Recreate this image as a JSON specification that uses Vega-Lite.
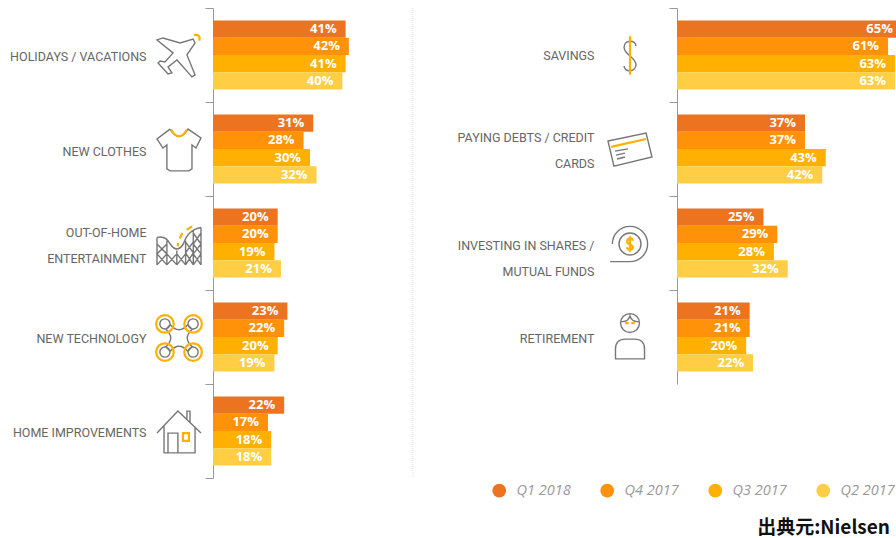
{"$schema":"https://vega.github.io/schema/vega-lite/v6.json","padding":{"left":0,"top":2,"right":0,"bottom":0},"background":"white","autosize":{"type":"pad"},"spacing":0,
"title":{"text":"出典元:Nielsen","orient":"bottom","anchor":"end","font":"Noto Sans CJK JP","fontSize":19,"fontWeight":"bold","color":"#111","offset":21,"dx":-6},
"config":{"view":{"stroke":null},"axisY":{"title":null,"domainColor":"#999","tickColor":"#999","tickSize":8,"tickBand":"extent","labelFont":"Roboto","labelFontSize":12.5,"labelColor":"#666","labelPadding":59,"labelLimit":300,"labelLineHeight":26,"minExtent":213,"maxExtent":213,"grid":false,"labelExpr":"datum.label=='OUT-OF-HOME ENTERTAINMENT'?['OUT-OF-HOME','ENTERTAINMENT']:datum.label=='PAYING DEBTS / CREDIT CARDS'?['PAYING DEBTS / CREDIT','CARDS']:datum.label=='INVESTING IN SHARES / MUTUAL FUNDS'?['INVESTING IN SHARES /','MUTUAL FUNDS']:datum.label"},
"legend":{"orient":"none","legendX":279,"legendY":475,"direction":"horizontal","columns":4,"title":null,"symbolType":"circle","symbolSize":190,"labelFont":"Open Sans","labelFontStyle":"italic","labelFontSize":14.5,"labelColor":"#999","labelOffset":10,"columnPadding":29,"symbolStrokeWidth":0}},
"datasets":{
"rows":[
{"category":"HOLIDAYS / VACATIONS","quarter":"Q1 2018","value":0.41},{"category":"HOLIDAYS / VACATIONS","quarter":"Q4 2017","value":0.42},{"category":"HOLIDAYS / VACATIONS","quarter":"Q3 2017","value":0.41},{"category":"HOLIDAYS / VACATIONS","quarter":"Q2 2017","value":0.40},
{"category":"NEW CLOTHES","quarter":"Q1 2018","value":0.31},{"category":"NEW CLOTHES","quarter":"Q4 2017","value":0.28},{"category":"NEW CLOTHES","quarter":"Q3 2017","value":0.30},{"category":"NEW CLOTHES","quarter":"Q2 2017","value":0.32},
{"category":"OUT-OF-HOME ENTERTAINMENT","quarter":"Q1 2018","value":0.20},{"category":"OUT-OF-HOME ENTERTAINMENT","quarter":"Q4 2017","value":0.20},{"category":"OUT-OF-HOME ENTERTAINMENT","quarter":"Q3 2017","value":0.19},{"category":"OUT-OF-HOME ENTERTAINMENT","quarter":"Q2 2017","value":0.21},
{"category":"NEW TECHNOLOGY","quarter":"Q1 2018","value":0.23},{"category":"NEW TECHNOLOGY","quarter":"Q4 2017","value":0.22},{"category":"NEW TECHNOLOGY","quarter":"Q3 2017","value":0.20},{"category":"NEW TECHNOLOGY","quarter":"Q2 2017","value":0.19},
{"category":"HOME IMPROVEMENTS","quarter":"Q1 2018","value":0.22},{"category":"HOME IMPROVEMENTS","quarter":"Q4 2017","value":0.17},{"category":"HOME IMPROVEMENTS","quarter":"Q3 2017","value":0.18},{"category":"HOME IMPROVEMENTS","quarter":"Q2 2017","value":0.18}],
"rowsRight":[
{"category":"SAVINGS","quarter":"Q1 2018","value":0.65},{"category":"SAVINGS","quarter":"Q4 2017","value":0.61},{"category":"SAVINGS","quarter":"Q3 2017","value":0.63},{"category":"SAVINGS","quarter":"Q2 2017","value":0.63},
{"category":"PAYING DEBTS / CREDIT CARDS","quarter":"Q1 2018","value":0.37},{"category":"PAYING DEBTS / CREDIT CARDS","quarter":"Q4 2017","value":0.37},{"category":"PAYING DEBTS / CREDIT CARDS","quarter":"Q3 2017","value":0.43},{"category":"PAYING DEBTS / CREDIT CARDS","quarter":"Q2 2017","value":0.42},
{"category":"INVESTING IN SHARES / MUTUAL FUNDS","quarter":"Q1 2018","value":0.25},{"category":"INVESTING IN SHARES / MUTUAL FUNDS","quarter":"Q4 2017","value":0.29},{"category":"INVESTING IN SHARES / MUTUAL FUNDS","quarter":"Q3 2017","value":0.28},{"category":"INVESTING IN SHARES / MUTUAL FUNDS","quarter":"Q2 2017","value":0.32},
{"category":"RETIREMENT","quarter":"Q1 2018","value":0.21},{"category":"RETIREMENT","quarter":"Q4 2017","value":0.21},{"category":"RETIREMENT","quarter":"Q3 2017","value":0.20},{"category":"RETIREMENT","quarter":"Q2 2017","value":0.22}],
"icons":[
{"category":"HOLIDAYS / VACATIONS","icon":"plane","part":"line"},{"category":"HOLIDAYS / VACATIONS","icon":"plane-accent","part":"accent"},
{"category":"NEW CLOTHES","icon":"shirt","part":"line"},{"category":"NEW CLOTHES","icon":"shirt-accent","part":"accent"},
{"category":"OUT-OF-HOME ENTERTAINMENT","icon":"coaster","part":"line"},{"category":"OUT-OF-HOME ENTERTAINMENT","icon":"coaster-accent","part":"accent"},
{"category":"NEW TECHNOLOGY","icon":"drone","part":"line"},{"category":"NEW TECHNOLOGY","icon":"drone-accent","part":"accent"},
{"category":"HOME IMPROVEMENTS","icon":"house","part":"line"},{"category":"HOME IMPROVEMENTS","icon":"house-accent","part":"accent"}],
"iconsRight":[
{"category":"SAVINGS","icon":"dollar","part":"line"},{"category":"SAVINGS","icon":"dollar-accent","part":"accent"},
{"category":"PAYING DEBTS / CREDIT CARDS","icon":"card","part":"line"},{"category":"PAYING DEBTS / CREDIT CARDS","icon":"card-accent","part":"accent"},
{"category":"INVESTING IN SHARES / MUTUAL FUNDS","icon":"invest","part":"line"},{"category":"INVESTING IN SHARES / MUTUAL FUNDS","icon":"invest-accent","part":"accent"},
{"category":"RETIREMENT","icon":"person","part":"line"},{"category":"RETIREMENT","icon":"person-accent","part":"accent"}]
},
"resolve":{"scale":{"y":"independent","x":"independent","yOffset":"independent"}},
"hconcat":[
{"width":207,"height":470,
"layer":[
{"data":{"name":"rows"},"mark":{"type":"bar","yOffset":3},"encoding":{
"y":{"field":"category","type":"nominal","sort":["HOLIDAYS / VACATIONS","NEW CLOTHES","OUT-OF-HOME ENTERTAINMENT","NEW TECHNOLOGY","HOME IMPROVEMENTS"],"scale":{"paddingInner":0,"paddingOuter":0},"axis":{"encoding":{"labels":{"dy":{"value":{"signal":"datum.value=='OUT-OF-HOME ENTERTAINMENT'?-11:datum.value=='NEW CLOTHES'?2:1"}}}}}},
"yOffset":{"field":"quarter","type":"nominal","sort":["Q1 2018","Q4 2017","Q3 2017","Q2 2017"],"scale":{"paddingInner":0,"paddingOuter":0.73}},
"x":{"field":"value","type":"quantitative","axis":null,"scale":{"domain":[0,0.64],"nice":false}},
"color":{"field":"quarter","type":"nominal","sort":["Q1 2018","Q4 2017","Q3 2017","Q2 2017"],"scale":{"domain":["Q1 2018","Q4 2017","Q3 2017","Q2 2017"],"range":["#EC7320","#FF9208","#FFB000","#FFCE44"]}}}},
{"data":{"name":"rows"},"mark":{"type":"text","align":"right","dx":-9,"yOffset":3,"font":"Open Sans","fontWeight":"bold","fontSize":13,"color":"white"},"encoding":{
"y":{"field":"category","type":"nominal","sort":["HOLIDAYS / VACATIONS","NEW CLOTHES","OUT-OF-HOME ENTERTAINMENT","NEW TECHNOLOGY","HOME IMPROVEMENTS"]},
"yOffset":{"field":"quarter","type":"nominal","sort":["Q1 2018","Q4 2017","Q3 2017","Q2 2017"]},
"x":{"field":"value","type":"quantitative"},
"text":{"field":"value","type":"quantitative","format":".0%"}}},
{"data":{"name":"rows"},"transform":[{"filter":"datum.category=='NEW CLOTHES'&&datum.quarter=='Q1 2018'"}],"mark":{"type":"rule","color":"#ddd","strokeWidth":1,"strokeDash":[1,1]},"encoding":{"x":{"datum":0.618}}},
{"data":{"name":"icons"},"mark":{"type":"point","filled":false,"size":1936,"opacity":1,"xOffset":-34,"yOffset":1},"encoding":{
"y":{"field":"category","type":"nominal","sort":["HOLIDAYS / VACATIONS","NEW CLOTHES","OUT-OF-HOME ENTERTAINMENT","NEW TECHNOLOGY","HOME IMPROVEMENTS"]},
"x":{"datum":0},
"shape":{"field":"icon","type":"nominal","legend":null,"scale":{"domain":["plane","plane-accent","shirt","shirt-accent","coaster","coaster-accent","drone","drone-accent","house","house-accent","dollar","dollar-accent","card","card-accent","invest","invest-accent","person","person-accent"],"range":[
"M-1-.73L-.73-.82L.05-.59L.64-.77L.73-.59L.36-.05L.73.86L.59.95L-.09.18L-.5.5L-.32.77L-.5.82L-.95.32L-.86.23L-.64.27L-.27-.14Z",
"M.68-.95Q1-1 .92-.7",
"M-.41-.95L-1-.5L-.73-.09L-.55-.23L-.55.86L-.41.95L.45.95L.59.86L.59-.23L.77-.09L1-.55L.41-.95Q0-.3-.41-.95",
"M-.36-.93Q0-.3.36-.93",
"M-1-.3L-1 .95M-.55-.15L-.55.95M-.1.3L-.1.95M.3-.15L.3.95M.65-.6L.65.95M1-.75L1 .95M-1-.3Q-.6-.4-.4 0Q-.1.45.2 0Q.4-.65 1-.75M-1 0L-.55.45L-1 .95M-.55 0L-1 .45L-.55.95M-.55.45L-.1.95M-.1.45L-.55.95M-.1.45L.3.95M.3.45L-.1.95M.3-.1L.65.4L.3.95M.65-.1L.3.4L.65.95M.65-.5L1 0L.65.45L1 .95M1-.5L.65 0L1 .45L.65.95",
"M-.05.1L-.05-.05M.03-.25L.15-.5M.35-.65L.6-.8",
"M-.4-.6Q0-.15.4-.6L.6-.4Q.15 0 .6.4L.4.6Q0 .15-.4.6L-.6.4Q-.15 0-.6-.4ZM-.87-.64A.23.23 0 1 0-.41-.64A.23.23 0 1 0-.87-.64ZM.41-.64A.23.23 0 1 0 .87-.64A.23.23 0 1 0 .41-.64ZM-.87.64A.23.23 0 1 0-.41.64A.23.23 0 1 0-.87.64ZM.41.64A.23.23 0 1 0 .87.64A.23.23 0 1 0 .41.64Z",
"M-1.04-.64A.4.4 0 1 0-.24-.64A.4.4 0 1 0-1.04-.64ZM.24-.64A.4.4 0 1 0 1.04-.64A.4.4 0 1 0 .24-.64ZM-1.04.64A.4.4 0 1 0-.24.64A.4.4 0 1 0-1.04.64ZM.24.64A.4.4 0 1 0 1.04.64A.4.4 0 1 0 .24.64Z",
"M-1 .05L-.05-.95L1 .05M-.68-.25L-.68.95L.73.95L.73-.25M-.5.95L-.5.05L-.05.05L-.05.95M.36-.6L.36-.95L.5-.95L.5-.45",
"M.18.05L.45.05L.45.4L.18.4Z",
"M.27-.45C.27-.75-.27-.75-.27-.4C-.27-.05.27.05.27.4C.27.75-.27.75-.27.45",
"M0-.9L0 .85",
"M-1-.41L.73-.77L1 .32L-.73.73ZM-.68.05L-.09-.05M-.64.23L-.23.14M-.59.41L-.23.32",
"M-.86-.14L.73-.5",
"M-.9.8L0 .8A.8.8 0 1 0-.8 0M-.5 0A.5.5 0 1 0 .5 0A.5.5 0 1 0-.5 0Z",
"M.13-.15C.13-.3-.13-.3-.13-.1C-.13.05.13 0 .13.15C.13.3-.13.3-.13.15M0-.35L0 .35",
"M-.66.95L.66.95L.66.5Q.66.05.2.05L-.2.05Q-.66.05-.66.5ZM-.43-.68A.43.43 0 1 0 .43-.68A.43.43 0 1 0-.43-.68ZM-.42-.75Q-.1-.7 0-1Q.1-.7.42-.75",
"M-.22-.68L-.06-.68M.06-.68L.22-.68"]}},
"stroke":{"field":"part","type":"nominal","legend":null,"scale":{"domain":["line","accent"],"range":["#777777","#FFB000"]}},
"strokeWidth":{"field":"part","type":"ordinal","legend":null,"scale":{"domain":["line","accent"],"range":[1.4,2.2]}}}}
]},
{"width":219,"height":376,
"layer":[
{"data":{"name":"rowsRight"},"mark":{"type":"bar","clip":true,"yOffset":3},"encoding":{
"y":{"field":"category","type":"nominal","sort":["SAVINGS","PAYING DEBTS / CREDIT CARDS","INVESTING IN SHARES / MUTUAL FUNDS","RETIREMENT"],"scale":{"paddingInner":0,"paddingOuter":0},"axis":{"minExtent":257,"maxExtent":257,"labelPadding":75,"encoding":{"labels":{"dy":{"value":{"signal":"datum.value=='PAYING DEBTS / CREDIT CARDS'?-12:datum.value=='INVESTING IN SHARES / MUTUAL FUNDS'?2:datum.value=='RETIREMENT'?1:0"}}},"ticks":{"opacity":{"value":{"signal":"datum.value=='RETIREMENT'?0:1"}}}}}},
"yOffset":{"field":"quarter","type":"nominal","sort":["Q1 2018","Q4 2017","Q3 2017","Q2 2017"],"scale":{"paddingInner":0,"paddingOuter":0.73}},
"x":{"field":"value","type":"quantitative","axis":null,"scale":{"domain":[0,0.633],"nice":false}},
"color":{"field":"quarter","type":"nominal","sort":["Q1 2018","Q4 2017","Q3 2017","Q2 2017"]}}},
{"data":{"name":"rowsRight"},"mark":{"type":"text","align":"right","dx":-9,"yOffset":3,"font":"Open Sans","fontWeight":"bold","fontSize":13,"color":"white"},"encoding":{
"y":{"field":"category","type":"nominal","sort":["SAVINGS","PAYING DEBTS / CREDIT CARDS","INVESTING IN SHARES / MUTUAL FUNDS","RETIREMENT"]},
"yOffset":{"field":"quarter","type":"nominal","sort":["Q1 2018","Q4 2017","Q3 2017","Q2 2017"]},
"x":{"field":"value","type":"quantitative"},
"text":{"field":"value","type":"quantitative","format":".0%"}}},
{"data":{"name":"iconsRight"},"mark":{"type":"point","filled":false,"size":1936,"opacity":1,"xOffset":-47,"yOffset":1},"encoding":{
"y":{"field":"category","type":"nominal","sort":["SAVINGS","PAYING DEBTS / CREDIT CARDS","INVESTING IN SHARES / MUTUAL FUNDS","RETIREMENT"]},
"x":{"datum":0},
"shape":{"field":"icon","type":"nominal","legend":null},
"stroke":{"field":"part","type":"nominal","legend":null},
"strokeWidth":{"field":"part","type":"ordinal","legend":null}}}
]}
]}
